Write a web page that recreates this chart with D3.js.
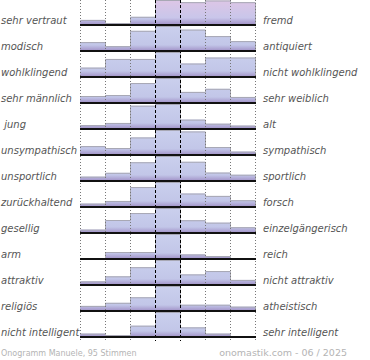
<!DOCTYPE html>
<html><head><meta charset="utf-8">
<script src="https://cdn.jsdelivr.net/npm/d3@7"></script>
<style>html,body{margin:0;padding:0;background:#fff;} svg{display:block;}</style>
</head><body>
<script>
// ---- data ----
const leftLabels = ["sehr vertraut","modisch","wohlklingend","sehr männlich"," jung","unsympathisch","unsportlich","zurückhaltend","gesellig","arm","attraktiv","religiös","nicht intelligent"];
const rightLabels = ["fremd","antiquiert","nicht wohlklingend","sehr weiblich","alt","sympathisch","sportlich","forsch","einzelgängerisch","reich","nicht attraktiv","atheistisch","sehr intelligent"];
const scalePoints = [1,2,3,4,5,6,7];
// relative bar heights (share of row maximum, %)
const values = [
  [17, 4, 30, 100, 91, 98, 91],
  [33, 16, 80, 100, 85, 58, 37],
  [35, 71, 71, 100, 52, 77, 77],
  [25, 29, 79, 100, 42, 55, 21],
  [12, 21, 93, 100, 35, 18, 10],
  [33, 25, 69, 100, 94, 29, 10],
  [14, 30, 74, 100, 76, 31, 22],
  [10, 21, 79, 100, 52, 42, 24],
  [10, 50, 79, 100, 49, 39, 20],
  [0, 25, 25, 100, 15, 8, 0],
  [11, 32, 70, 100, 40, 54, 17],
  [17, 30, 53, 100, 22, 22, 14],
  [10, 4, 43, 100, 36, 10, 0]
];
const highlightRows = [0];
const highlightPoints = [4,5,6,7];
const footerLeft = "Onogramm Manuele, 95 Stimmen";
const footerRight = "onomastik.com - 06 / 2025";

// ---- chart ----
const W = 370, H = 360;
const svg = d3.select("body").append("svg").attr("width", W).attr("height", H);
const defs = svg.append("defs");

const g1 = defs.append("linearGradient").attr("id","gBlue").attr("gradientUnits","userSpaceOnUse")
  .attr("x1",0).attr("y1",0).attr("x2",0).attr("y2",24);
g1.append("stop").attr("offset","0%").attr("stop-color","#cacfed");
g1.append("stop").attr("offset","75%").attr("stop-color","#c2c6e8");
g1.append("stop").attr("offset","100%").attr("stop-color","#a090c6");
const g2 = defs.append("linearGradient").attr("id","gPink").attr("gradientUnits","userSpaceOnUse")
  .attr("x1",0).attr("y1",0).attr("x2",0).attr("y2",24);
g2.append("stop").attr("offset","0%").attr("stop-color","#dcc6e6");
g2.append("stop").attr("offset","70%").attr("stop-color","#c9c6ea");
g2.append("stop").attr("offset","100%").attr("stop-color","#a090c6");

const x = d3.scaleBand().domain(scalePoints).range([80, 255]).padding(0);
const row = d3.scaleBand().domain(d3.range(leftLabels.length)).range([1, 1 + 26*leftLabels.length]).padding(0);
const h = d3.scaleLinear().domain([0, 100]).range([0, 24]);

leftLabels.forEach((lab, i) => {
  const gr = svg.append("g").attr("transform", `translate(0,${row(i)})`);
  const vals = values[i];
  const hi = highlightRows.includes(i);
  gr.selectAll("rect").data(vals).join("rect")
    .attr("x", (d, j) => x(scalePoints[j]))
    .attr("width", x.bandwidth())
    .attr("y", d => -1 + 24 - h(d))
    .attr("height", d => h(d))
    .attr("fill", (d, j) => hi && highlightPoints.includes(scalePoints[j]) ? "url(#gPink)" : "url(#gBlue)");
  // step outline
  const pts = vals.map((d, j) => [x(scalePoints[j]), 23 - h(d)]);
  pts.push([x(scalePoints[6]) + x.bandwidth(), 23 - h(vals[6])]);
  const line = d3.line().curve(d3.curveStepAfter);
  const path = line(pts) + `L${x(scalePoints[6]) + x.bandwidth()},23`;
  gr.append("path").attr("d", path).attr("fill","none").attr("stroke","#a8a8b4").attr("stroke-width",1)
    .attr("transform","translate(0.5,0.5)");
});

// grid lines
const gridX = [80,105,130,155,180,205,230,255];
svg.selectAll("line.grid").data(gridX).join("line").attr("class","grid")
  .attr("x1", d => d + 0.5).attr("x2", d => d + 0.5).attr("y1", 0).attr("y2", 341)
  .attr("stroke", d => (d === 155 || d === 180) ? "#000" : "#777")
  .attr("stroke-dasharray", d => (d === 155 || d === 180) ? "3,2" : "1,2")
  .attr("stroke-width", 1);

// baselines
leftLabels.forEach((lab, i) => {
  const yb = row(i) + 24;
  svg.append("line").attr("x1", 80).attr("x2", 256).attr("y1", yb).attr("y2", yb)
    .attr("stroke", "#111").attr("stroke-width", 2);
});

// labels
svg.selectAll("text.left").data(leftLabels).join("text").attr("class","left")
  .attr("x", 1).attr("y", (d, i) => row(i) + 23)
  .style("white-space","pre")
  .attr("font-family","DejaVu Sans").attr("font-style","italic").attr("font-size","10px")
  .attr("fill","#555").text(d => d);
svg.selectAll("text.right").data(rightLabels).join("text").attr("class","right")
  .attr("x", 263).attr("y", (d, i) => row(i) + 23)
  .attr("font-family","DejaVu Sans").attr("font-style","italic").attr("font-size","10px")
  .attr("fill","#555").text(d => d);

// footer
svg.append("text").attr("x", 1).attr("y", 356).attr("font-family","DejaVu Sans").attr("font-size","8px")
  .attr("fill","#b4b4b4").text(footerLeft);
svg.append("text").attr("x", 347).attr("y", 356).attr("text-anchor","end").attr("font-family","DejaVu Sans").attr("font-size","9.5px")
  .attr("fill","#b4b4b4").text(footerRight);
</script>
</body></html>
